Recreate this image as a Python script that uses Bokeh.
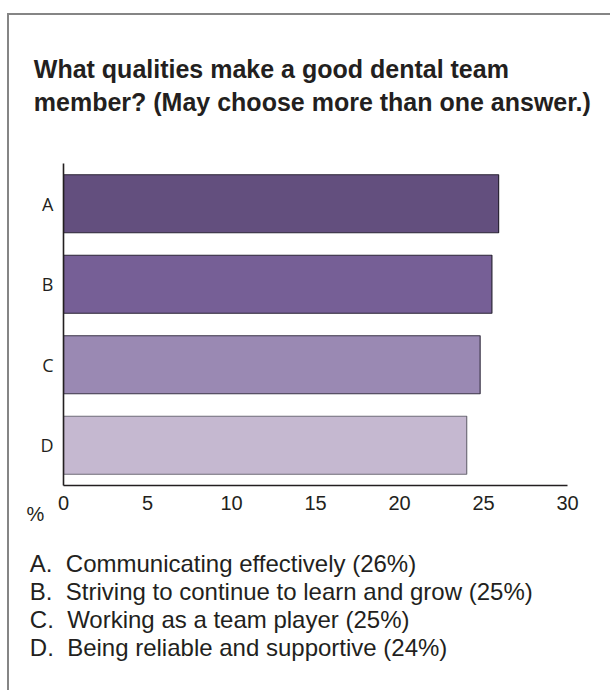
from bokeh.plotting import figure
from bokeh.models import Title, FactorRange, Range1d, FixedTicker, ColumnDataSource
from bokeh.embed import file_html
from bokeh.resources import INLINE

# ---- data ----
title_lines = ["What qualities make a good dental team",
               "member? (May choose more than one answer.)"]
categories = ["A", "B", "C", "D"]
values = [25.9, 25.5, 24.8, 24.0]
bar_colors = ["#634f7e", "#765f96", "#9a89b3", "#c5b8d0"]
bar_outlines = ["#2b2536", "#2b2536", "#3b3547", "#6f6c78"]
x_ticks = [0, 5, 10, 15, 20, 25, 30]
axis_unit = "%"
legend_lines = [
    "A.\u00a0 Communicating effectively (26%)",
    "B.\u00a0 Striving to continue to learn and grow (25%)",
    "C.\u00a0 Working as a team player (25%)",
    "D.\u00a0 Being reliable and supportive (24%)",
]

TXT = "#231f20"
W, H = 603, 677
FL, FR, FT, FB = 54, 45, 148, 207

p = figure(width=W, height=H, output_backend="svg", toolbar_location=None, title=None,
           y_range=FactorRange(factors=list(reversed(categories)), range_padding=0),
           x_range=Range1d(0, 30),
           min_border_left=FL, min_border_right=FR, min_border_top=FT, min_border_bottom=FB,
           styles={"margin-left": "7px", "margin-top": "13px",
                   "border-top": "2px solid #858585", "border-left": "2px solid #858585"})
p.outline_line_color = None
p.grid.grid_line_color = None

src = ColumnDataSource(dict(cat=categories, val=values, color=bar_colors, line=bar_outlines))
p.hbar(y="cat", right="val", left=0, height=0.72, source=src,
       fill_color="color", line_color="line", line_width=1.2)

p.xaxis.ticker = FixedTicker(ticks=x_ticks)
for ax in (p.xaxis, p.yaxis):
    ax.axis_line_color = TXT
    ax.axis_line_width = 1.6
    ax.major_tick_line_color = None
    ax.minor_tick_line_color = None
    ax.major_tick_out = 0
    ax.major_tick_in = 0
    ax.minor_tick_out = 0
p.xaxis.major_label_text_font = "Liberation Sans"
p.xaxis.major_label_text_font_size = "20px"
p.xaxis.major_label_text_color = TXT
p.xaxis.major_label_standoff = 10
p.yaxis.major_label_text_font = "Open Sans"
p.yaxis.major_label_text_font_size = "18px"
p.yaxis.major_label_text_color = TXT
p.yaxis.major_label_standoff = 10


def title(text, loc, offset, standoff, size, bold=False, line_height=1.2):
    p.add_layout(Title(text=text, align="left", offset=offset, standoff=standoff,
                       text_font="Liberation Sans", text_font_size=size,
                       text_font_style="bold" if bold else "normal",
                       text_line_height=line_height, text_color=TXT), loc)


# trailing empty line keeps the two title lines high above the frame
title("\n".join(title_lines) + "\n", "above", -29.7, 27, "25px", bold=True, line_height=1.2)
title(axis_unit, "below", -37, -24, "20px")
# leading empty line gives the gap between the axis and the answer list
title("\n" + "\n".join(legend_lines), "below", -33.7, 14, "24px", line_height=1.045)

open("out.html", "w").write(file_html(p, INLINE))
